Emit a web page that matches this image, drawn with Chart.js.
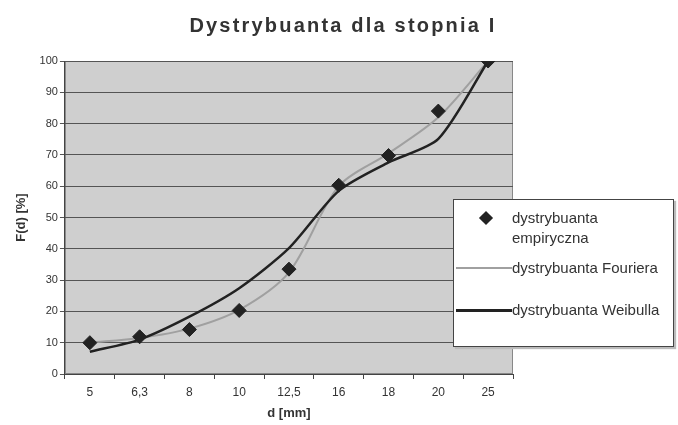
<!DOCTYPE html>
<html>
<head>
<meta charset="utf-8">
<script src="https://cdn.jsdelivr.net/npm/chart.js@4"></script>
<style>
  body { margin: 0; background: #fff; }
  #wrap { position: relative; width: 678px; height: 425px; }
  #title {
    position: absolute; left: 0; top: 14px; width: 686px; text-align: center;
    font-family: "Liberation Sans", Arial, sans-serif; font-weight: bold; font-size: 20px;
    letter-spacing: 2.2px; color: #333;
  }
  #legend {
    position: absolute; left: 453px; top: 199px; width: 219px; height: 146px;
    background: #fff; border: 1px solid #444; box-shadow: 2px 2px 1px #bbb;
    font-family: "Liberation Sans", Arial, sans-serif; font-size: 15px; color: #333;
  }
  .item { position: absolute; left: 0; }
  .sym { position: absolute; }
</style>
</head>
<body>
<div id="wrap">
  <canvas id="chart" width="678" height="425"></canvas>
  <div id="title">Dystrybuanta dla stopnia I</div>
  <div id="legend">
    <div class="item" style="top:8px;">
      <div class="sym" style="left:27px;top:5px;width:10px;height:10px;background:#222;transform:rotate(45deg);"></div>
      <div style="position:absolute;left:58px;top:0;line-height:20px;width:160px;">dystrybuanta<br>empiryczna</div>
    </div>
    <div class="item" style="top:58px;">
      <div class="sym" style="left:2px;top:9px;width:56px;height:2px;background:#a0a0a0;"></div>
      <div style="position:absolute;left:58px;top:0;white-space:nowrap;line-height:20px;">dystrybuanta Fouriera</div>
    </div>
    <div class="item" style="top:100px;">
      <div class="sym" style="left:2px;top:9px;width:56px;height:3px;background:#222;"></div>
      <div style="position:absolute;left:58px;top:0;white-space:nowrap;line-height:20px;">dystrybuanta Weibulla</div>
    </div>
  </div>
</div>
<script>
const kategorie = ['5', '6,3', '8', '10', '12,5', '16', '18', '20', '25'];
const empiryczna = [10, 11.9, 14.2, 20.3, 33.5, 60.3, 69.8, 84.0, 100];
const fourier = [10, 11.5, 14.5, 20.5, 32.5, 60, 70.5, 82, 100];
const weibull = [7.1, 11, 18.3, 27.4, 40.2, 58.5, 67.6, 75.1, 100];
const yTicks = [0, 10, 20, 30, 40, 50, 60, 70, 80, 90, 100];

const fontName = '"Liberation Sans", Arial, sans-serif';

const plotBackground = {
    id: 'plotBackground',
    beforeDraw(chart) {
        const a = chart.chartArea;
        const ctx = chart.ctx;
        ctx.save();
        ctx.fillStyle = '#cfcfcf';
        ctx.fillRect(a.left, a.top, a.right - a.left, a.bottom - a.top);
        ctx.strokeStyle = '#888';
        ctx.lineWidth = 1;
        ctx.strokeRect(a.left + 0.5, a.top + 0.5, a.right - a.left - 1, a.bottom - a.top - 1);
        ctx.restore();
    }
};

const ctx = document.getElementById('chart').getContext('2d');
new Chart(ctx, {
    type: 'line',
    data: {
        labels: kategorie,
        datasets: [
            {
                label: 'dystrybuanta Fouriera',
                data: fourier,
                borderColor: '#a0a0a0',
                borderWidth: 2,
                pointRadius: 0,
                tension: 0.3,
                order: 3
            },
            {
                label: 'dystrybuanta Weibulla',
                data: weibull,
                borderColor: '#222',
                borderWidth: 2.5,
                pointRadius: 0,
                tension: 0.25,
                order: 2
            },
            {
                label: 'dystrybuanta empiryczna',
                data: empiryczna,
                showLine: false,
                pointStyle: 'rectRot',
                pointRadius: 7,
                backgroundColor: '#222',
                borderColor: '#222',
                order: 1
            }
        ]
    },
    options: {
        responsive: false,
        animation: false,
        layout: { padding: { left: 14, right: 165, top: 61, bottom: 4 } },
        plugins: {
            legend: { display: false },
            tooltip: { enabled: false },
            title: { display: false }
        },
        scales: {
            x: {
                offset: true,
                grid: { offset: true, drawOnChartArea: false, drawTicks: true, tickLength: 5, color: '#444' },
                border: { color: '#444' },
                ticks: { color: '#333', font: { family: fontName, size: 12 }, padding: 6 },
                title: {
                    display: true,
                    text: 'd [mm]',
                    color: '#333',
                    font: { family: fontName, size: 13, weight: 'bold' },
                    padding: { top: 0, bottom: 0 }
                }
            },
            y: {
                min: 0,
                max: 100,
                afterBuildTicks(axis) {
                    axis.ticks = yTicks.map(v => ({ value: v }));
                },
                grid: { color: '#555', tickLength: 5 },
                border: { color: '#444' },
                ticks: { color: '#333', font: { family: fontName, size: 11 }, padding: 2 },
                title: {
                    display: true,
                    text: 'F(d) [%]',
                    color: '#333',
                    font: { family: fontName, size: 13, weight: 'bold' },
                    padding: { top: 0, bottom: 8 }
                }
            }
        }
    },
    plugins: [plotBackground]
});
</script>
</body>
</html>
